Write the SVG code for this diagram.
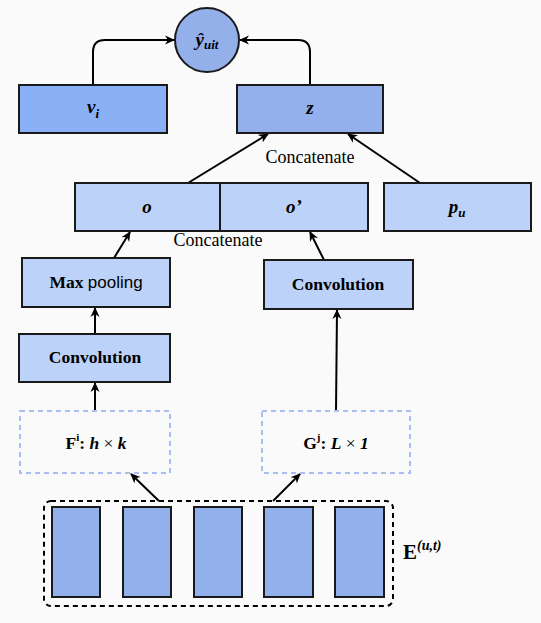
<svg xmlns="http://www.w3.org/2000/svg" width="541" height="623" viewBox="0 0 541 623">
<defs>
<marker id="arr" viewBox="0 0 10 10" refX="9" refY="5" markerWidth="10" markerHeight="10" markerUnits="userSpaceOnUse" orient="auto">
<path d="M0,0.5 L10,5 L0,9.5 L3,5 z" fill="#000"/>
</marker>
<style>
.box{stroke:#1a1a1a;stroke-width:2}
.dash{fill:#fafafa;stroke:#a7c0f0;stroke-width:2;stroke-dasharray:5,4}
.con{fill:none;stroke:#000;stroke-width:2;marker-end:url(#arr)}
.lbl{font-family:"Liberation Serif",serif;font-weight:bold;font-style:italic;font-size:19px;text-anchor:middle;fill:#000}
.ser{font-family:"Liberation Serif",serif;font-size:18px;text-anchor:middle;fill:#000}
.bs{font-family:"Liberation Serif",serif;font-size:17.5px;font-weight:bold;text-anchor:middle;fill:#000}
</style>
</defs>
<rect width="541" height="623" fill="#fafafa"/>
<g id="connectors">
<path class="con" d="M93,85 V52 Q93,40 105,40 H174"/>
<path class="con" d="M310,85 V52 Q310,40 298,40 H240"/>
<path class="con" d="M188,183 L268,134"/>
<path class="con" d="M420,183 L348,134"/>
<path class="con" d="M114,258 L130,232"/>
<path class="con" d="M324,260 L310,232"/>
<path class="con" d="M95,334 V308"/>
<path class="con" d="M95,411 V383"/>
<path class="con" d="M336,411 L337,310"/>
<path class="con" d="M159,501 L131,474"/>
<path class="con" d="M273,501 L300,474"/>
</g>
<g id="y_hat">
<circle cx="207" cy="40" r="32" fill="#93b0ea" stroke="#1a1a1a" stroke-width="2"/>
<text class="lbl" x="207" y="46" font-size="20">ŷ<tspan font-size="13" dy="3">uit</tspan></text>
</g>
<g id="v_i">
<rect class="box" x="19" y="85" width="148" height="48" fill="#89aff4"/>
<text class="lbl" x="93" y="113">v<tspan font-size="13" dy="5">i</tspan></text>
</g>
<g id="z">
<rect class="box" x="237" y="85" width="146" height="48" fill="#93b0ec"/>
<text class="lbl" x="310" y="114">z</text>
</g>
<text class="ser" x="310" y="163">Concatenate</text>
<g id="o">
<rect class="box" x="75" y="183" width="145" height="48" fill="#bdd2f8"/>
<text class="lbl" x="147" y="213">o</text>
</g>
<g id="o_prime">
<rect class="box" x="220" y="183" width="148" height="48" fill="#bdd2f8"/>
<text class="lbl" x="294" y="213">o’</text>
</g>
<g id="p_u">
<rect class="box" x="384" y="183" width="147" height="48" fill="#bdd2f8"/>
<text class="lbl" x="457" y="213">p<tspan font-size="13" dy="4">u</tspan></text>
</g>
<text class="ser" x="218" y="246">Concatenate</text>
<g id="max_pooling">
<rect class="box" x="22" y="258" width="148" height="49" fill="#bdd2f8"/>
<text class="bs" x="96" y="288" font-size="18">Max <tspan font-family="Liberation Sans, sans-serif" font-weight="normal" font-size="17">pooling</tspan></text>
</g>
<g id="conv_left">
<rect class="box" x="19" y="334" width="151" height="48" fill="#bdd2f8"/>
<text class="bs" x="95" y="363">Convolution</text>
</g>
<g id="conv_right">
<rect class="box" x="264" y="260" width="149" height="49" fill="#bdd2f8"/>
<text class="bs" x="338" y="290">Convolution</text>
</g>
<g id="filter_F">
<rect class="dash" x="20" y="411" width="150" height="62"/>
<text class="bs" x="96" y="449" font-size="18">F<tspan font-size="11" dy="-8">i</tspan><tspan dy="8">: </tspan><tspan font-style="italic">h</tspan><tspan font-weight="normal"> × </tspan><tspan font-style="italic">k</tspan></text>
</g>
<g id="filter_G">
<rect class="dash" x="262" y="411" width="148" height="62"/>
<text class="bs" x="336" y="449" font-size="18">G<tspan font-size="11" dy="-8">j</tspan><tspan dy="8">: </tspan><tspan font-style="italic">L</tspan><tspan font-weight="normal"> × </tspan><tspan font-style="italic">1</tspan></text>
</g>
<g id="E_ut">
<rect x="44" y="501" width="349" height="105" rx="7" fill="none" stroke="#000" stroke-width="2" stroke-dasharray="5,4"/>
<rect class="box" x="52" y="507" width="48" height="90" fill="#92b0ec"/>
<rect class="box" x="123" y="507" width="48" height="90" fill="#92b0ec"/>
<rect class="box" x="194" y="507" width="48" height="90" fill="#92b0ec"/>
<rect class="box" x="264" y="507" width="49" height="90" fill="#92b0ec"/>
<rect class="box" x="335" y="507" width="49" height="90" fill="#92b0ec"/>
<text x="403" y="559" font-family="Liberation Serif, serif" font-weight="bold" font-size="21" fill="#000">E<tspan font-size="14" font-style="italic" dy="-9">(u,t)</tspan></text>
</g>
</svg>
